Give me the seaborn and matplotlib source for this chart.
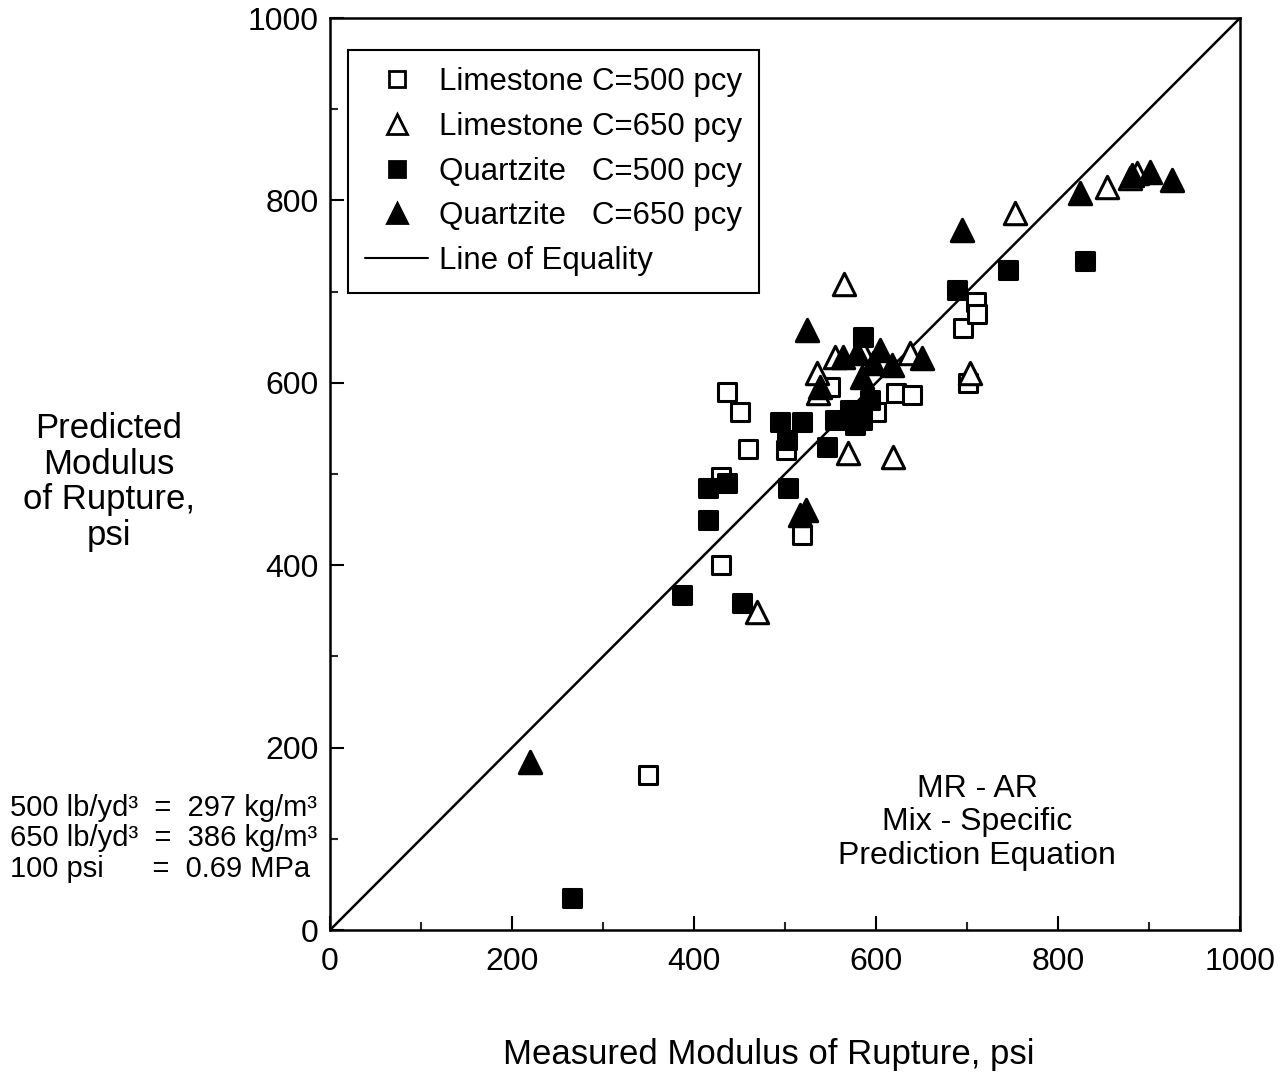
import numpy as np
import pandas as pd
import matplotlib
matplotlib.use("Agg")
import matplotlib.pyplot as plt
from matplotlib.lines import Line2D
from matplotlib.ticker import MultipleLocator
import seaborn as sns

# Measured vs. predicted modulus of rupture (psi)
lime500_measured = [350, 430, 430, 436, 451, 459, 501, 519, 549, 600, 622, 640, 696, 710, 711, 701]
lime500_predicted = [170, 400, 497, 590, 568, 527, 526, 433, 595, 568, 589, 587, 660, 689, 675, 600]

lime650_measured = [469, 569, 619, 565, 703, 753, 854, 887, 879, 535, 555, 637, 536, 585]
lime650_predicted = [349, 523, 519, 708, 611, 786, 815, 830, 825, 611, 628, 633, 589, 636]

quartz500_measured = [266, 387, 415, 436, 415, 453, 503, 495, 519, 502, 546, 586, 555, 571, 585, 577, 593, 689, 745, 830]
quartz500_predicted = [35, 367, 485, 490, 450, 359, 485, 557, 557, 537, 530, 650, 559, 570, 559, 554, 581, 702, 724, 734]

quartz650_measured = [220, 516, 523, 524, 695, 824, 925, 881, 901, 564, 579, 604, 651, 538, 597, 585, 618]
quartz650_predicted = [184, 455, 461, 658, 768, 808, 822, 828, 831, 628, 633, 636, 627, 595, 622, 606, 620]

equality = [0, 1000]

series_labels = ["Limestone C=500 pcy", "Limestone C=650 pcy",
                 "Quartzite   C=500 pcy", "Quartzite   C=650 pcy"]

sns.set_theme(style="white")
plt.rcParams["font.family"] = ["Liberation Sans", "DejaVu Sans"]
plt.rcParams["text.color"] = "black"
plt.rcParams["axes.labelcolor"] = "black"

fig = plt.figure(figsize=(12.81, 10.86), dpi=100)
ax = fig.add_axes([0.2576, 0.1436, 0.7104, 0.8398])

# line of equality
sns.lineplot(x=equality, y=equality, ax=ax, color="black", linewidth=1.8)

series = [
    (lime500_measured, lime500_predicted, "s", "white", 160),
    (lime650_measured, lime650_predicted, "^", "white", 260),
    (quartz500_measured, quartz500_predicted, "s", "black", 160),
    (quartz650_measured, quartz650_predicted, "^", "black", 260),
]
for xs, ys, mk, fc, sz in series:
    df = pd.DataFrame({"measured": xs, "predicted": ys})
    sns.scatterplot(data=df, x="measured", y="predicted", ax=ax, marker=mk,
                    s=sz, facecolor=fc, edgecolor="black", linewidth=2.2,
                    zorder=3)

ax.set_xlim(0, 1000)
ax.set_ylim(0, 1000)
ax.xaxis.set_major_locator(MultipleLocator(200))
ax.yaxis.set_major_locator(MultipleLocator(200))
ax.xaxis.set_minor_locator(MultipleLocator(100))
ax.yaxis.set_minor_locator(MultipleLocator(100))
ax.tick_params(axis="both", which="major", direction="in", length=10, width=1.5,
               labelsize=23, color="black", labelcolor="black",
               top=False, right=False, bottom=True, left=True)
ax.tick_params(axis="x", which="major", pad=12)
ax.tick_params(axis="y", which="major", pad=8)
ax.tick_params(axis="both", which="minor", direction="in", length=6, width=1.5,
               top=False, right=False, bottom=True, left=True)
for sp in ax.spines.values():
    sp.set_color("black")
    sp.set_linewidth(1.8)

ax.set_xlabel("Measured Modulus of Rupture, psi", fontsize=25)
ax.xaxis.set_label_coords(0.482, -0.118)
ax.set_ylabel("")
fig.text(0.085, 0.556, "Predicted\nModulus\nof Rupture,\npsi", fontsize=25,
         ha="center", va="center", linespacing=1.1)

handles = [
    Line2D([], [], marker="s", linestyle="none", markersize=11, markerfacecolor="white",
           markeredgecolor="black", markeredgewidth=2),
    Line2D([], [], marker="^", linestyle="none", markersize=14, markerfacecolor="white",
           markeredgecolor="black", markeredgewidth=2),
    Line2D([], [], marker="s", linestyle="none", markersize=11, markerfacecolor="black",
           markeredgecolor="black", markeredgewidth=2),
    Line2D([], [], marker="^", linestyle="none", markersize=14, markerfacecolor="black",
           markeredgecolor="black", markeredgewidth=2),
    Line2D([], [], color="black", linewidth=1.5),
]
leg = ax.legend(handles, series_labels + ["Line of Equality"], loc="upper left",
                bbox_to_anchor=(0.02, 0.965), borderaxespad=0, fontsize=22.5,
                frameon=True, fancybox=False, framealpha=1, edgecolor="black",
                handlelength=2.0, handletextpad=0.35, labelspacing=0.47,
                borderpad=0.55)
leg.get_frame().set_linewidth(1.5)

ax.text(0.711, 0.118, "MR - AR\nMix - Specific\nPrediction Equation",
        transform=ax.transAxes, ha="center", va="center", fontsize=23,
        linespacing=1.15)

fig.text(0.008, 0.228,
         "500 lb/yd³  =  297 kg/m³\n650 lb/yd³  =  386 kg/m³\n100 psi      =  0.69 MPa",
         fontsize=21, ha="left", va="center", linespacing=1.1)

fig.savefig("out.png", dpi=100, facecolor="white")
